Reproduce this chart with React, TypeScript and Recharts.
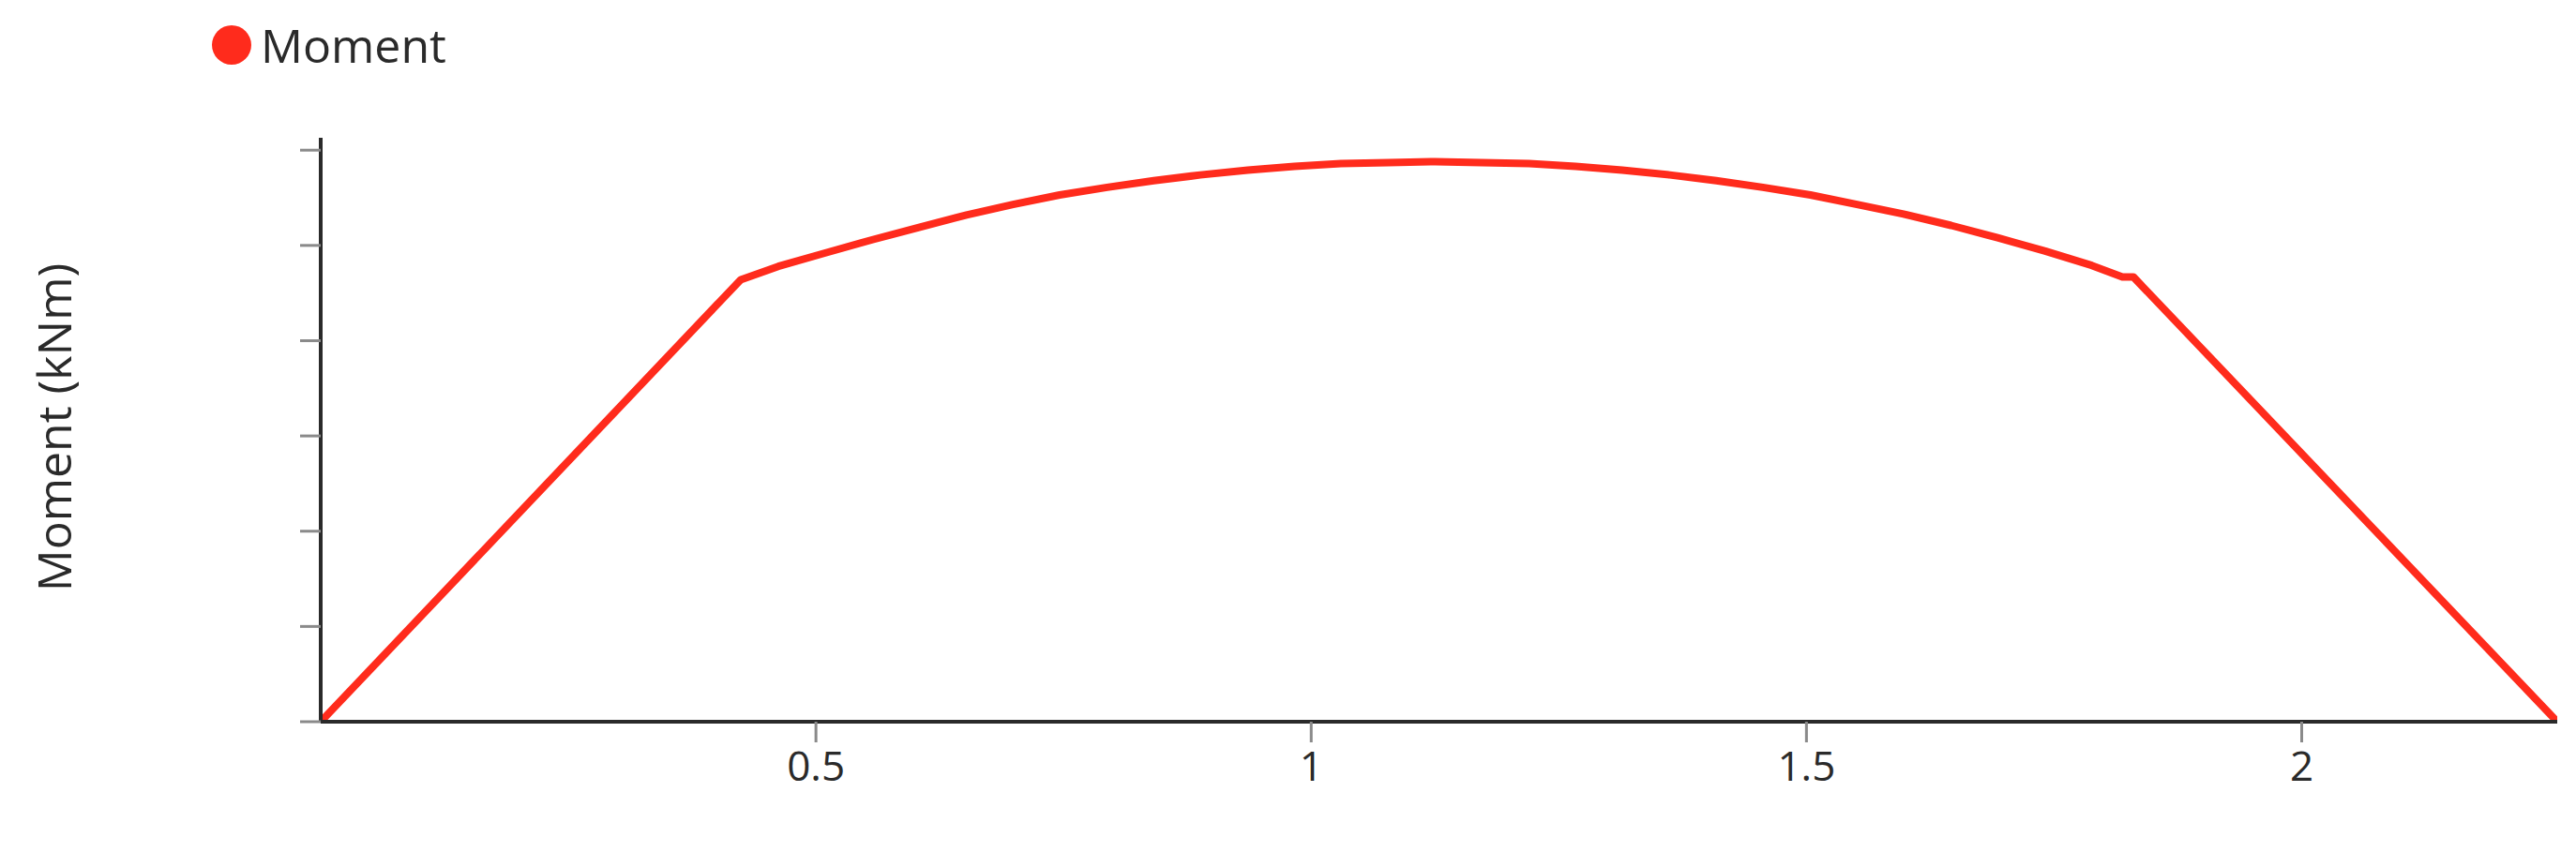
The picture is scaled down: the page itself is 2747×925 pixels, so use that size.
import React from 'react';
import { LineChart, Line, XAxis, YAxis } from 'recharts';

const positions = [
  0, 0.424, 0.462, 0.509, 0.557, 0.604, 0.652, 0.699, 0.746, 0.794, 0.841, 0.888, 0.936,
  0.983, 1.03, 1.078, 1.125, 1.172, 1.22, 1.267, 1.314, 1.362, 1.409, 1.456, 1.504, 1.551,
  1.598, 1.646, 1.693, 1.741, 1.788, 1.819, 1.83, 2.258,
];
const moments = [
  0, 4.64, 4.78, 4.92, 5.06, 5.19, 5.32, 5.43, 5.53, 5.61, 5.68, 5.74, 5.79,
  5.83, 5.86, 5.87, 5.88, 5.87, 5.86, 5.83, 5.79, 5.74, 5.68, 5.61, 5.53, 5.43,
  5.33, 5.21, 5.08, 4.94, 4.79, 4.67, 4.67, 0,
];
const xTicks = [0.5, 1, 1.5, 2];
const yTicks = [0, 1, 2, 3, 4, 5, 6];
const seriesName = 'Moment';
const yLabel = 'Moment (kNm)';

const data = positions.map((x, i) => ({ x, m: moments[i] }));

const RED = '#ff2b1c';
const FONT = '"Open Sans", sans-serif';

export default function App() {
  return (
    <div style={{ position: 'relative', width: 2731, height: 900, fontFamily: FONT }}>
      <div
        style={{
          position: 'absolute',
          top: 18,
          left: 218,
          height: 44,
          display: 'flex',
          alignItems: 'center',
          zIndex: 2,
        }}
      >
        <div style={{ width: 42, height: 42, borderRadius: '50%', background: RED }} />
        <span
          style={{
            marginLeft: 10,
            fontSize: 50,
            lineHeight: '44px',
            color: '#2a2a2a',
            fontFamily: FONT,
          }}
        >
          {seriesName}
        </span>
      </div>
      <LineChart
        width={2731}
        height={900}
        data={data}
        margin={{ top: 139, right: 12, left: 274, bottom: 0 }}
      >
        <XAxis
          dataKey="x"
          type="number"
          domain={[0, 2.258]}
          ticks={xTicks}
          allowDataOverflow
          height={138}
          tickSize={22}
          tickMargin={10}
          axisLine={{ stroke: '#2a2a2a', strokeWidth: 4 }}
          tickLine={{ stroke: '#8a8a8a', strokeWidth: 3 }}
          tick={{ fill: '#2a2a2a', fontSize: 44, fontFamily: FONT }}
        />
        <YAxis
          type="number"
          domain={[0, 6.13]}
          ticks={yTicks}
          allowDataOverflow
          width={60}
          tickSize={22}
          tickFormatter={() => ''}
          axisLine={{ stroke: '#2a2a2a', strokeWidth: 4 }}
          tickLine={{ stroke: '#8a8a8a', strokeWidth: 3 }}
          label={{
            value: yLabel,
            content: () => (
              <text
                x={49}
                y={448}
                transform="rotate(-90 49 448)"
                textAnchor="middle"
                dominantBaseline="central"
                fontSize={50}
                fontFamily={FONT}
                fill="#2a2a2a"
              >
                {yLabel}
              </text>
            ),
          }}
        />
        <Line
          type="linear"
          dataKey="m"
          name={seriesName}
          stroke={RED}
          strokeWidth={8}
          strokeLinejoin="round"
          dot={false}
          activeDot={false}
          isAnimationActive={false}
        />
      </LineChart>
    </div>
  );
}
